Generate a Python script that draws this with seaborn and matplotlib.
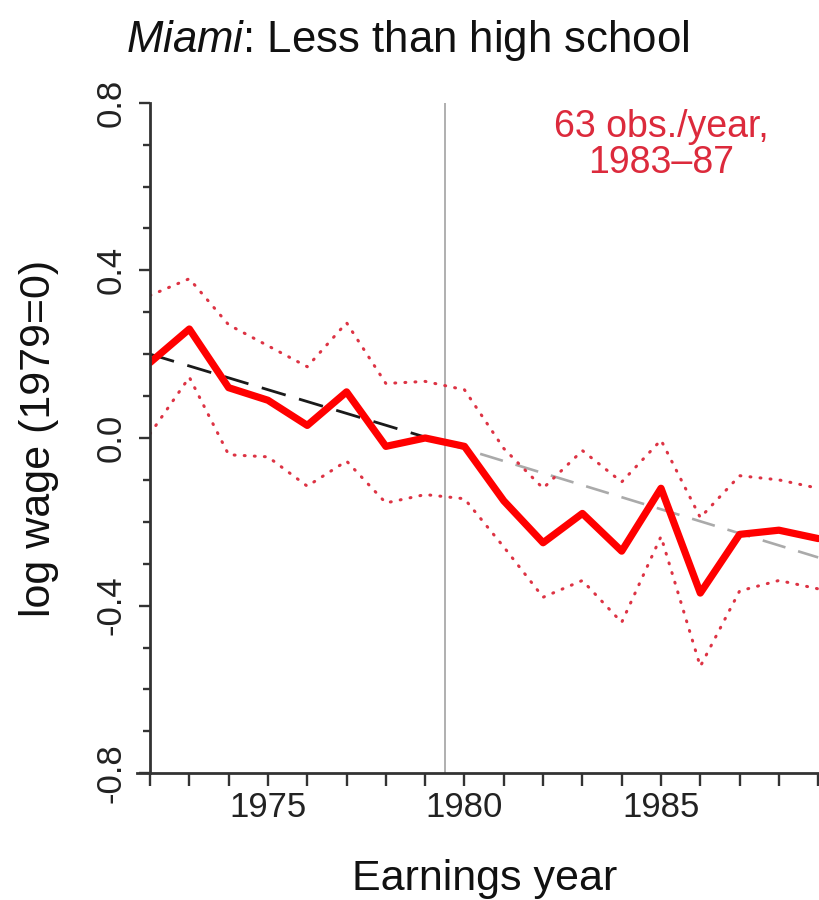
import pandas as pd
import seaborn as sns
import matplotlib.pyplot as plt
from matplotlib.ticker import MultipleLocator

# values
years = list(range(1972, 1990))
wage = [0.18, 0.26, 0.12, 0.09, 0.03, 0.11, -0.02, 0.00, -0.02, -0.15,
        -0.25, -0.18, -0.27, -0.12, -0.37, -0.23, -0.22, -0.24]
upper = [0.34, 0.38, 0.27, 0.22, 0.17, 0.275, 0.13, 0.135, 0.115, -0.025,
         -0.12, -0.03, -0.105, -0.005, -0.19, -0.09, -0.10, -0.12]
lower = [0.01, 0.145, -0.04, -0.045, -0.115, -0.055, -0.155, -0.135, -0.145, -0.26,
         -0.38, -0.34, -0.44, -0.235, -0.545, -0.365, -0.34, -0.36]
trend_pre_years = [1972, 1979.5]
trend_pre = [0.20, -0.012]
trend_post_years = [1979.5, 1989]
trend_post = [-0.012, -0.285]
ytick_vals = [-0.8, -0.4, 0.0, 0.4, 0.8]
ytick_labels = ["-0.8", "-0.4", "0.0", "0.4", "0.8"]
xtick_vals = [1975, 1980, 1985]

sns.set_theme(style="ticks")
plt.rcParams['font.family'] = ['Liberation Sans', 'DejaVu Sans']
plt.rcParams['mathtext.fontset'] = 'custom'
plt.rcParams['mathtext.it'] = 'Liberation Sans:italic'
plt.rcParams['mathtext.rm'] = 'Liberation Sans'

df = pd.DataFrame({"year": years, "wage": wage, "upper": upper, "lower": lower})
pre = pd.DataFrame({"year": trend_pre_years, "fit": trend_pre})
post = pd.DataFrame({"year": trend_post_years, "fit": trend_post})

fig = plt.figure(figsize=(8.19, 9), dpi=100)
ax = fig.add_axes([0.1832, 0.1408, 0.8168, 0.7451])

dot_red = "#dd3344"
ax.axvline(1979.5, color="#9a9a9a", lw=1.1, zorder=1)

sns.lineplot(data=post, x="year", y="fit", color="#aaaaaa", lw=1.9,
             linestyle=(0, (9, 5)), ax=ax)
sns.lineplot(data=pre, x="year", y="fit", color="#1a1a1a", lw=2.0,
             linestyle=(0, (9, 5)), ax=ax)
sns.lineplot(data=df, x="year", y="upper", color=dot_red, lw=2.2,
             linestyle=(0, (0.3, 3.0)), dash_capstyle="round", ax=ax)
sns.lineplot(data=df, x="year", y="lower", color=dot_red, lw=2.2,
             linestyle=(0, (0.3, 3.0)), dash_capstyle="round", ax=ax)
sns.lineplot(data=df, x="year", y="wage", color="#ff0000", lw=5.2, ax=ax)

ax.set_xlim(1972, 1989.02)
ax.set_ylim(-0.8, 0.8)

sns.despine(ax=ax)
for side in ["left", "bottom"]:
    ax.spines[side].set_color("#333333")
    ax.spines[side].set_linewidth(2.0)
ax.spines["bottom"].set_bounds(1971.67, 1989.02)

ax.set_xticks(xtick_vals)
ax.set_xticklabels([str(v) for v in xtick_vals])
ax.xaxis.set_minor_locator(MultipleLocator(1))
ax.tick_params(axis="x", which="both", length=9, width=1.7, color="#333333",
               labelsize=25, pad=4, labelcolor="#222222")

ax.set_yticks(ytick_vals)
ax.set_yticklabels(ytick_labels, rotation=90, va="center")
ax.yaxis.set_minor_locator(MultipleLocator(0.1))
ax.tick_params(axis="y", which="major", length=8, width=1.7, color="#333333",
               labelsize=25, pad=8, labelcolor="#222222")
ax.tick_params(axis="y", which="minor", length=5, width=1.7, color="#333333")

ax.set_xlabel("Earnings year", fontsize=31, labelpad=25, color="#111111")
ax.set_ylabel("log wage (1979=0)", fontsize=31, labelpad=26, color="#111111")

ax.text(1985, 0.70, "63 obs./year,\n1983–87", ha="center", va="center",
        color="#dc2a3c", fontsize=27, linespacing=1.0)

fig.text(408 / 819, 1 - 52 / 900, r"$\mathit{Miami}$: Less than high school",
         ha="center", va="baseline", fontsize=31.5, color="#111111")

fig.savefig("out.png", dpi=100)
